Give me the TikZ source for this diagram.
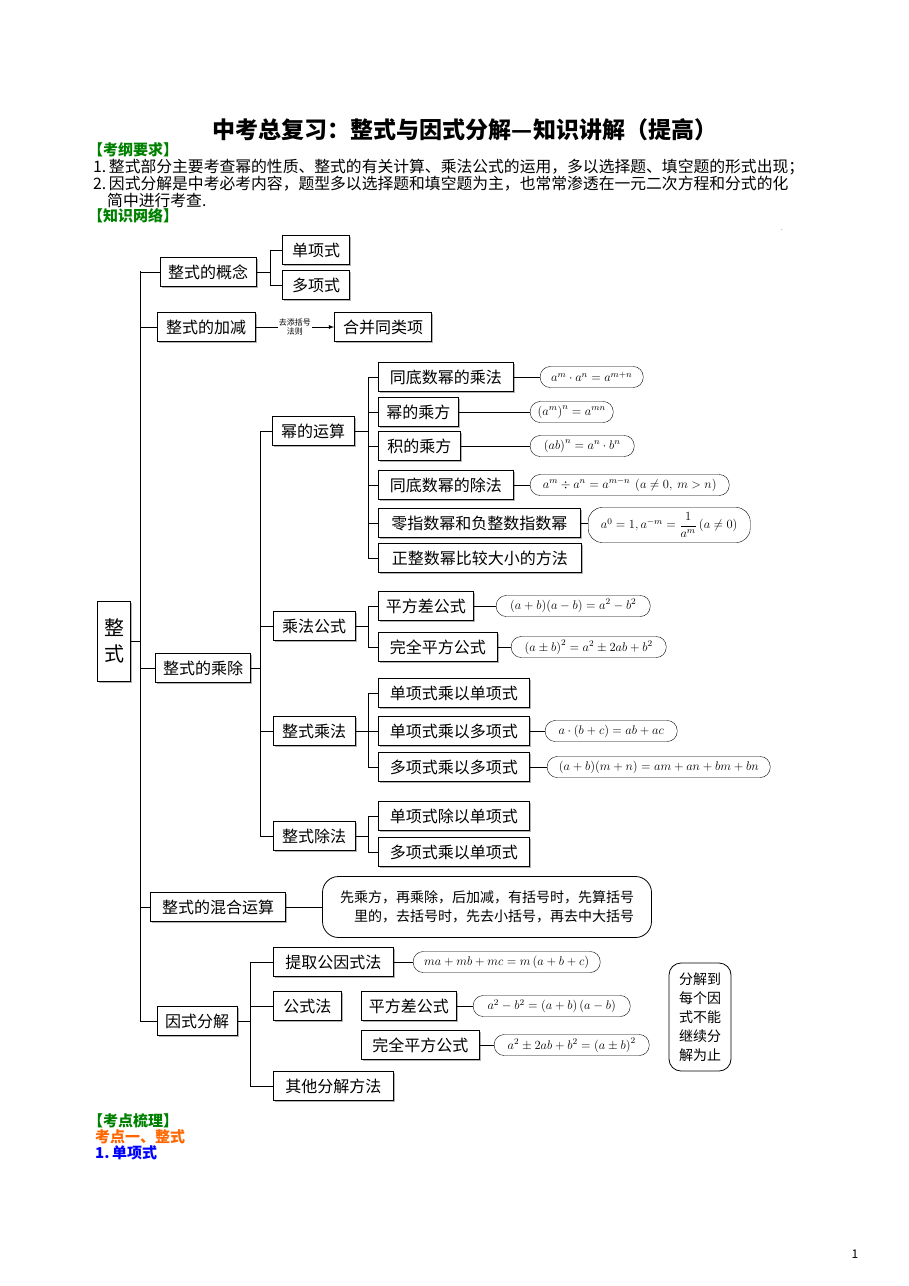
\RequirePackage{fix-cm}
\documentclass[tikz,border=0pt]{standalone}
\usepackage{amsmath}
\usepackage{fontspec}
\setmainfont{Noto Sans CJK SC}
\usetikzlibrary{positioning,shadows}
\definecolor{hdgreen}{RGB}{0,128,0}
\definecolor{hdorange}{RGB}{255,102,0}
\tikzset{
  box/.style={draw,thick,fill=white,inner sep=3pt,minimum height=29pt,
    font=\fontsize{16}{18}\selectfont,
    drop shadow={shadow xshift=1.5pt,shadow yshift=-1.5pt,fill=gray!60,opacity=1}},
  fml/.style={draw,rounded corners=10pt,inner sep=3pt,minimum height=21pt,
    font=\fontsize{12.5}{15}\selectfont},
  link/.style={thick},
  hd/.style={anchor=west,inner sep=0pt,font=\fontsize{15}{17}\selectfont\bfseries}
}
\begin{document}
\begin{tikzpicture}[x=1pt,y=-1pt]
\useasboundingbox (0,0) rectangle (909,1286);
% header
\node[font=\fontsize{23}{25}\selectfont\bfseries] (title) at (465,130) {中考总复习：整式与因式分解—知识讲解（提高）};
\node[hd,text=hdgreen] (req) at (88,150) {【考纲要求】};
\node[anchor=west,inner sep=0pt,font=\fontsize{15.8}{17}\selectfont] (l1) at (93,167) {1.\,整式部分主要考查幂的性质、整式的有关计算、乘法公式的运用，多以选择题、填空题的形式出现；};
\node[anchor=west,inner sep=0pt,font=\fontsize{15.8}{17}\selectfont] (l2) at (93,184) {2.\,因式分解是中考必考内容，题型多以选择题和填空题为主，也常常渗透在一元二次方程和分式的化};
\node[anchor=west,inner sep=0pt,font=\fontsize{15.8}{17}\selectfont] (l3) at (107,200) {简中进行考查.};
\node[hd,text=hdgreen] (net) at (88,216) {【知识网络】};
\node[font=\fontsize{6}{6}\selectfont,inner sep=0pt] (dot) at (782,230) {.};

% root
\node[box,minimum width=33pt,minimum height=80pt,align=center,font=\fontsize{20}{26}\selectfont] (root) at (114,641) {整\\式};
\coordinate (sp) at (140,641);
\draw[link] (root.east) -- (sp);
\draw[link] (140,271) -- (140,1022);

% level 1
\node[box,minimum width=96pt] (gn) at (208,272) {整式的概念};
\node[box,minimum width=98pt] (jj) at (206,327) {整式的加减};
\node[box,minimum width=95pt] (cc) at (203,668) {整式的乘除};
\node[box,minimum width=135pt] (hh) at (218,907) {整式的混合运算};
\node[box,minimum width=80pt] (ys) at (197,1021) {因式分解};
\foreach \n in {gn,jj,cc,hh,ys}
  \draw[link] (sp |- \n.west) -- (\n.west);

% concept
\node[box,minimum width=67pt] (dx) at (316,250) {单项式};
\node[box,minimum width=67pt] (px) at (316,285) {多项式};
\coordinate (b1) at (270,272);
\foreach \n in {dx,px}
  \draw[link] (gn.east) -- (b1) |- (\n.west);

% add/sub
\node[box,minimum width=97pt] (hb) at (383,327) {合并同类项};
\draw[link,-latex] (jj.east) -- (hb.west)
  node[midway,fill=white,align=center,inner sep=1pt,font=\fontsize{8}{9}\selectfont] (rule) {去添括号\\法则};

% mult/div
\coordinate (b2) at (260,668);
\node[box,minimum width=82pt] (my) at (313,431) {幂的运算};
\node[box,minimum width=82pt] (cf) at (314,626) {乘法公式};
\node[box,minimum width=82pt] (zc) at (314,731) {整式乘法};
\node[box,minimum width=82pt] (zd) at (314,836) {整式除法};
\draw[link] (260,431) -- (260,836);
\draw[link] (cc.east) -- (b2);
\foreach \n in {my,cf,zc,zd}
  \draw[link] (b2 |- \n.west) -- (\n.west);

% power rules
\node[box,anchor=west,minimum width=135pt] (p1) at (378,377) {同底数幂的乘法};
\node[box,anchor=west,minimum width=80pt] (p2) at (378,412) {幂的乘方};
\node[box,anchor=west,minimum width=82pt] (p3) at (378,446) {积的乘方};
\node[box,anchor=west,minimum width=135pt] (p4) at (378,485) {同底数幂的除法};
\node[box,anchor=west,minimum width=202pt] (p5) at (378,523) {零指数幂和负整数指数幂};
\node[box,anchor=west,minimum width=203pt] (p6) at (378,558) {正整数幂比较大小的方法};
\coordinate (b3) at (368,431);
\draw[link] (my.east) -- (b3);
\draw[link] (368,377) -- (368,558);
\foreach \n in {p1,p2,p3,p4,p5,p6}
  \draw[link] (b3 |- \n.west) -- (\n.west);
\node[fml,anchor=west,minimum width=103pt] (f1) at (540,377) {$a^m\cdot a^n=a^{m+n}$};
\node[fml,anchor=west,minimum width=83pt] (f2) at (530,412) {$\left(a^m\right)^n=a^{mn}$};
\node[fml,anchor=west,minimum width=104pt] (f3) at (530,446) {$\left(ab\right)^n=a^n\cdot b^n$};
\node[fml,anchor=west,minimum width=199pt] (f4) at (530,485) {$a^m\div a^n=a^{m-n}\ \left(a\neq0,\ m>n\right)$};
\node[fml,anchor=west,minimum width=162pt,minimum height=35pt,rounded corners=14pt] (f5) at (588,525) {$a^0=1,a^{-m}=\dfrac{1}{a^m}\left(a\neq0\right)$};
\foreach \a/\b in {p1/f1,p2/f2,p3/f3,p4/f4,p5/f5}
  \draw[link] (\a.east) -- (\a.east -| \b.west);

% formulas
\node[box,anchor=west,minimum width=95pt] (q1) at (378,606) {平方差公式};
\node[box,anchor=west,minimum width=119pt] (q2) at (378,647) {完全平方公式};
\coordinate (b4) at (368,626);
\draw[link] (cf.east) -- (b4);
\foreach \n in {q1,q2}
  \draw[link] (b4) |- (\n.west);
\node[fml,anchor=west,minimum width=154pt] (g1) at (496,606) {$(a+b)(a-b)=a^2-b^2$};
\node[fml,anchor=west,minimum width=155pt] (g2) at (511,647) {$\left(a\pm b\right)^2=a^2\pm2ab+b^2$};
\foreach \a/\b in {q1/g1,q2/g2}
  \draw[link] (\a.east) -- (\b.west);

% poly mult
\node[box,anchor=west,minimum width=151pt] (m1) at (378,693) {单项式乘以单项式};
\node[box,anchor=west,minimum width=151pt] (m2) at (378,731) {单项式乘以多项式};
\node[box,anchor=west,minimum width=151pt] (m3) at (378,767) {多项式乘以多项式};
\coordinate (b5) at (368,731);
\draw[link] (zc.east) -- (b5);
\draw[link] (368,693) -- (368,767);
\foreach \n in {m1,m2,m3}
  \draw[link] (b5 |- \n.west) -- (\n.west);
\node[fml,anchor=west,minimum width=132pt] (h2) at (545,731) {$a\cdot(b+c)=ab+ac$};
\node[fml,anchor=west,minimum width=223pt] (h3) at (547,767) {$(a+b)(m+n)=am+an+bm+bn$};
\foreach \a/\b in {m2/h2,m3/h3}
  \draw[link] (\a.east) -- (\b.west);

% poly div
\node[box,anchor=west,minimum width=151pt] (d1) at (378,816) {单项式除以单项式};
\node[box,anchor=west,minimum width=151pt] (d2) at (378,852) {多项式乘以单项式};
\coordinate (b6) at (368,836);
\draw[link] (zd.east) -- (b6);
\foreach \n in {d1,d2}
  \draw[link] (b6) |- (\n.west);

% mixed
\node[draw,thick,rounded corners=16pt,minimum width=329pt,minimum height=61pt,align=right,
  font=\fontsize{14}{19}\selectfont] (mx) at (487,907) {先乘方，再乘除，后加减，有括号时，先算括号\\里的，去括号时，先去小括号，再去中大括号};
\draw[link] (hh.east) -- (mx.west);

% factoring
\node[box,anchor=west,minimum width=120pt] (y1) at (273,962) {提取公因式法};
\node[box,anchor=west,minimum width=68pt] (y2) at (273,1006) {公式法};
\node[box,anchor=west,minimum width=120pt] (y3) at (273,1086) {其他分解方法};
\coordinate (b7) at (250,1021);
\draw[link] (ys.east) -- (b7);
\draw[link] (250,962) -- (250,1086);
\foreach \n in {y1,y2,y3}
  \draw[link] (b7 |- \n.west) -- (\n.west);
\node[box,anchor=west,minimum width=95pt] (y4) at (361,1006) {平方差公式};
\node[box,anchor=west,minimum width=118pt] (y5) at (361,1045) {完全平方公式};
\node[fml,anchor=west,minimum width=187pt] (k1) at (413,962) {$ma+mb+mc=m\left(a+b+c\right)$};
\node[fml,anchor=west,minimum width=157pt] (k2) at (473,1006) {$a^2-b^2=\left(a+b\right)\left(a-b\right)$};
\node[fml,anchor=west,minimum width=155pt] (k3) at (494,1045) {$a^2\pm2ab+b^2=\left(a\pm b\right)^2$};
\foreach \a/\b in {y1/k1,y4/k2,y5/k3}
  \draw[link] (\a.east) -- (\b.west);
\node[draw,thick,rounded corners=12pt,minimum width=62pt,minimum height=108pt,align=center,
  font=\fontsize{14}{19}\selectfont] (stop) at (700,1017) {分解到\\每个因\\式不能\\继续分\\解为止};

% footer
\node[hd,text=hdgreen] (pts) at (88,1121) {【考点梳理】};
\node[hd,text=hdorange] (k1t) at (95,1137) {考点一、整式};
\node[hd,text=blue] (k11) at (95,1153) {1.\,单项式};
\node[font=\fontsize{12}{14}\selectfont] (pg) at (855,1254) {1};
\end{tikzpicture}
\end{document}
